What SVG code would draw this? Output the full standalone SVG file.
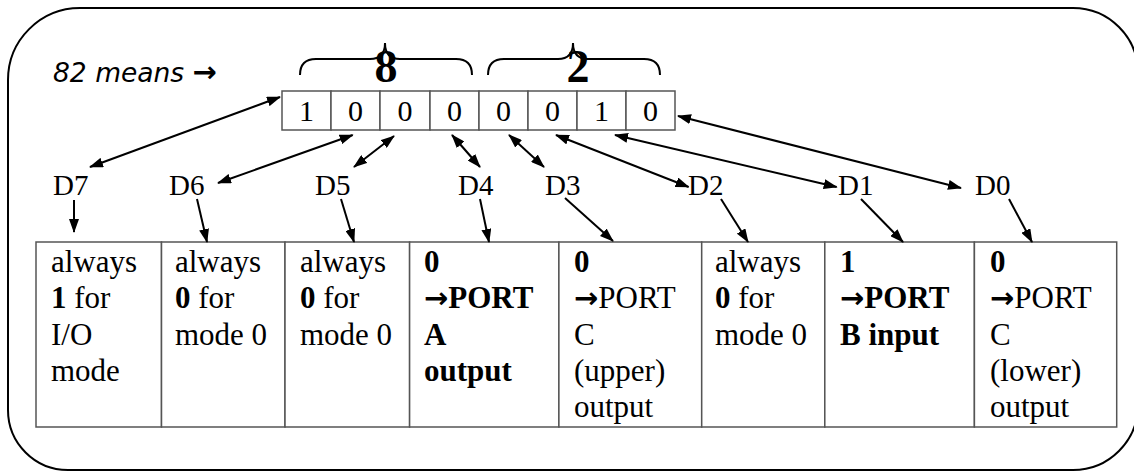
<svg xmlns="http://www.w3.org/2000/svg" width="1134" height="473" viewBox="0 0 1134 473">
<style>
.frame{fill:none;stroke:#000;stroke-width:2}
.cell{fill:#fff;stroke:#555;stroke-width:1.5}
.bit{font-family:"Liberation Serif",serif;font-size:30px;fill:#000;text-anchor:middle}
.big{font-family:"Liberation Serif",serif;font-size:46px;font-weight:bold;fill:#000;text-anchor:middle}
.lbl{font-family:"Liberation Serif",serif;font-size:29px;fill:#000}
.tx{font-family:"Liberation Serif",serif;font-size:31px;fill:#000}
.b{font-weight:bold}
.ar{font-family:"DejaVu Sans",sans-serif;font-weight:bold;font-size:29px}
.brace{fill:none;stroke:#000;stroke-width:2}
.con{fill:none;stroke:#000;stroke-width:2}
.title{font-family:"DejaVu Sans",sans-serif;font-style:italic;font-size:26.5px;fill:#000}
</style>
<defs>
<marker id="ah" viewBox="0 0 14 10" refX="13" refY="5" markerWidth="14" markerHeight="10" orient="auto-start-reverse" markerUnits="userSpaceOnUse">
<path d="M0,0 L14,5 L0,10 z" fill="#000"/>
</marker>
</defs>
<path class="frame" d="M80,8 L1073,8 A65,65 0 0 1 1138,73 L1138,405 A65,65 0 0 1 1073,470 L68,470 A60,60 0 0 1 8,410 L8,80 A72,72 0 0 1 80,8 Z"/>
<g id="title"><text class="title" x="53" y="82">82 means <tspan font-style="normal" font-weight="bold" font-size="29px">→</tspan></text></g>
<g id="brace8">
<path class="brace" d="M300,75 Q300,59 316,59 L370,59 Q385,59 385,43 Q385,59 400,59 L456,59 Q472,59 472,75"/>
<text class="big" x="386" y="82">8</text>
</g>
<g id="brace2">
<path class="brace" d="M488,75 Q488,59 504,59 L558,59 Q573,59 573,43 Q573,59 588,59 L644,59 Q660,59 660,75"/>
<text class="big" x="578" y="82">2</text>
</g>
<g id="bits">
<rect class="cell" x="282" y="91" width="49" height="39"/>
<rect class="cell" x="331" y="91" width="49" height="39"/>
<rect class="cell" x="380" y="91" width="50" height="39"/>
<rect class="cell" x="430" y="91" width="49" height="39"/>
<rect class="cell" x="479" y="91" width="49" height="39"/>
<rect class="cell" x="528" y="91" width="49" height="39"/>
<rect class="cell" x="577" y="91" width="49" height="39"/>
<rect class="cell" x="626" y="91" width="49" height="39"/>
<text class="bit" x="306.5" y="121">1</text>
<text class="bit" x="355.5" y="121">0</text>
<text class="bit" x="405" y="121">0</text>
<text class="bit" x="454.5" y="121">0</text>
<text class="bit" x="503.5" y="121">0</text>
<text class="bit" x="552.5" y="121">0</text>
<text class="bit" x="601.5" y="121">1</text>
<text class="bit" x="650.5" y="121">0</text>
</g>
<g id="D7"><text class="lbl" x="53" y="195">D7</text></g>
<g id="D6"><text class="lbl" x="169" y="195">D6</text></g>
<g id="D5"><text class="lbl" x="315" y="195">D5</text></g>
<g id="D4"><text class="lbl" x="458" y="195">D4</text></g>
<g id="D3"><text class="lbl" x="545" y="195">D3</text></g>
<g id="D2"><text class="lbl" x="688" y="195">D2</text></g>
<g id="D1"><text class="lbl" x="838" y="195">D1</text></g>
<g id="D0"><text class="lbl" x="975" y="195">D0</text></g>
<g id="cell7">
<rect class="cell" x="36" y="242" width="125.5" height="185"/>
<text class="tx" x="51" y="272">always</text>
<text class="tx" x="51" y="308.3"><tspan class="b">1</tspan> for</text>
<text class="tx" x="51" y="344.6">I/O</text>
<text class="tx" x="51" y="381">mode</text>
</g>
<g id="cell6">
<rect class="cell" x="161.5" y="242" width="123.5" height="185"/>
<text class="tx" x="175" y="272">always</text>
<text class="tx" x="175" y="308.3"><tspan class="b">0</tspan> for</text>
<text class="tx" x="175" y="344.6">mode 0</text>
</g>
<g id="cell5">
<rect class="cell" x="285" y="242" width="124.6" height="185"/>
<text class="tx" x="300" y="272">always</text>
<text class="tx" x="300" y="308.3"><tspan class="b">0</tspan> for</text>
<text class="tx" x="300" y="344.6">mode 0</text>
</g>
<g id="cell4">
<rect class="cell" x="409.6" y="242" width="149.3" height="185"/>
<text class="tx b" x="424" y="272">0</text>
<text class="tx b" x="424" y="308.3"><tspan class="ar">→</tspan>PORT</text>
<text class="tx b" x="424" y="344.6">A</text>
<text class="tx b" x="424" y="381">output</text>
</g>
<g id="cell3">
<rect class="cell" x="558.9" y="242" width="142.8" height="185"/>
<text class="tx b" x="574" y="272">0</text>
<text class="tx" x="574" y="308.3"><tspan class="ar">→</tspan>PORT</text>
<text class="tx" x="574" y="344.6">C</text>
<text class="tx" x="574" y="381">(upper)</text>
<text class="tx" x="574" y="417.3">output</text>
</g>
<g id="cell2">
<rect class="cell" x="701.7" y="242" width="123.1" height="185"/>
<text class="tx" x="715" y="272">always</text>
<text class="tx" x="715" y="308.3"><tspan class="b">0</tspan> for</text>
<text class="tx" x="715" y="344.6">mode 0</text>
</g>
<g id="cell1">
<rect class="cell" x="824.8" y="242" width="149.6" height="185"/>
<text class="tx b" x="840" y="272">1</text>
<text class="tx b" x="840" y="308.3"><tspan class="ar">→</tspan>PORT</text>
<text class="tx b" x="840" y="344.6">B input</text>
</g>
<g id="cell0">
<rect class="cell" x="974.4" y="242" width="142.3" height="185"/>
<text class="tx b" x="990" y="272">0</text>
<text class="tx" x="990" y="308.3"><tspan class="ar">→</tspan>PORT</text>
<text class="tx" x="990" y="344.6">C</text>
<text class="tx" x="990" y="381">(lower)</text>
<text class="tx" x="990" y="417.3">output</text>
</g>
<g id="connectors">
<line class="con" x1="90" y1="167" x2="280" y2="97" marker-start="url(#ah)" marker-end="url(#ah)"/>
<line class="con" x1="218" y1="183" x2="352.7" y2="135" marker-start="url(#ah)" marker-end="url(#ah)"/>
<line class="con" x1="354" y1="167" x2="394" y2="136" marker-start="url(#ah)" marker-end="url(#ah)"/>
<line class="con" x1="480" y1="167" x2="452" y2="135" marker-start="url(#ah)" marker-end="url(#ah)"/>
<line class="con" x1="544" y1="167" x2="509" y2="135" marker-start="url(#ah)" marker-end="url(#ah)"/>
<line class="con" x1="688.6" y1="187" x2="556" y2="135" marker-start="url(#ah)" marker-end="url(#ah)"/>
<line class="con" x1="836.7" y1="187" x2="615" y2="135" marker-start="url(#ah)" marker-end="url(#ah)"/>
<line class="con" x1="961" y1="188" x2="678" y2="116" marker-start="url(#ah)" marker-end="url(#ah)"/>
<line class="con" x1="74" y1="200" x2="74" y2="232" marker-end="url(#ah)"/>
<line class="con" x1="197" y1="199" x2="207" y2="242" marker-end="url(#ah)"/>
<line class="con" x1="341" y1="199" x2="354" y2="242" marker-end="url(#ah)"/>
<line class="con" x1="480" y1="199" x2="489" y2="242" marker-end="url(#ah)"/>
<line class="con" x1="565" y1="198" x2="613" y2="241" marker-end="url(#ah)"/>
<line class="con" x1="721" y1="199" x2="748" y2="242" marker-end="url(#ah)"/>
<line class="con" x1="861" y1="199" x2="903" y2="242" marker-end="url(#ah)"/>
<line class="con" x1="1009" y1="199" x2="1032" y2="242" marker-end="url(#ah)"/>
</g>
</svg>
